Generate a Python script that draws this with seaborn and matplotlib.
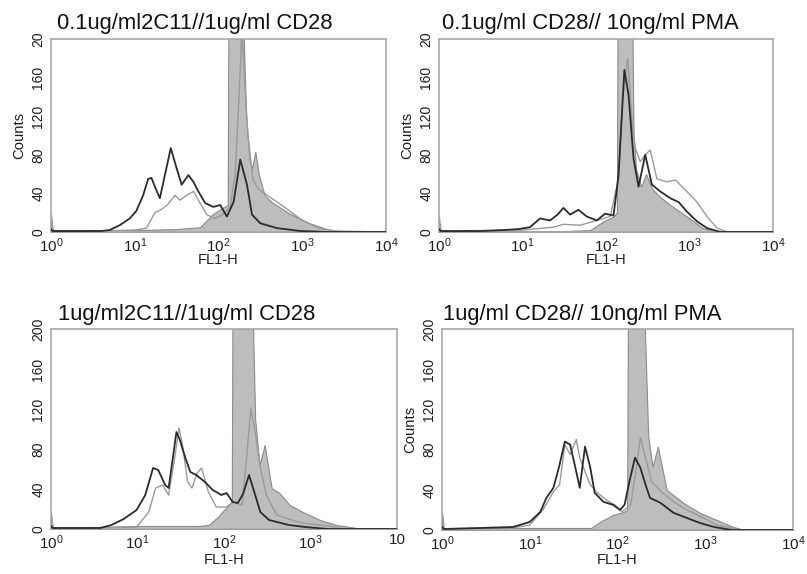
import numpy as np
import pandas as pd
import matplotlib
matplotlib.use("Agg")
import matplotlib.pyplot as plt
import matplotlib.transforms as mtransforms
from matplotlib.ticker import NullLocator
import seaborn as sns

# ---------------- data (x values are log10 of FL1-H) ----------------
titles = ["0.1ug/ml2C11//1ug/ml CD28", "0.1ug/ml CD28// 10ng/ml PMA",
          "1ug/ml2C11//1ug/ml CD28", "1ug/ml CD28// 10ng/ml PMA"]
yticks = [0, 40, 80, 120, 160, 200]
ytick_labels_top = ["0", "40", "80", "120", "160", "20"]
ytick_labels_bottom = ["0", "40", "80", "120", "160", "200"]
xticks = [1, 10, 100, 1000, 10000]
xtick_labels = ["$10^0$", "$10^1$", "$10^2$", "$10^3$", "$10^4$"]
xtick_labels_bl = ["$10^0$", "$10^1$", "$10^2$", "$10^3$", "10"]

# panel 1 (top left)
p1_fill_x = [0.0, 0.02, 0.5, 1.0, 1.5, 1.78, 1.94, 2.05, 2.09, 2.11, 2.12, 2.28, 2.33, 2.37, 2.40, 2.44, 2.48, 2.55, 2.65, 2.85, 3.09, 3.33, 3.5, 4.0]
p1_fill_y = [18, 2, 2, 2, 3, 5, 19, 25, 27, 28, 260, 260, 120, 75, 66, 83, 60, 38, 30, 19, 9, 2, 0, 0]
p1_dark_x = [0.0, 0.02, 0.3, 0.6, 0.7, 0.82, 0.94, 1.02, 1.10, 1.16, 1.20, 1.24, 1.30, 1.36, 1.43, 1.50, 1.56, 1.64, 1.70, 1.76, 1.84, 1.94, 2.02, 2.10, 2.18, 2.26, 2.34, 2.40, 2.50, 2.70, 2.98, 3.3, 4.0]
p1_dark_y = [3, 1, 1, 1, 2, 7, 14, 22, 38, 55, 56, 47, 35, 59, 87, 66, 49, 59, 52, 42, 30, 26, 28, 16, 31, 75, 49, 18, 9, 4, 1, 0, 0]
p1_light_x = [0.0, 0.02, 0.5, 1.0, 1.14, 1.24, 1.31, 1.39, 1.48, 1.54, 1.62, 1.70, 1.78, 1.86, 1.96, 2.05, 2.14, 2.20, 2.25, 2.28, 2.31, 2.35, 2.41, 2.47, 2.55, 2.65, 2.8, 3.0, 3.2, 3.4, 4.0]
p1_light_y = [20, 1, 1, 2, 4, 20, 23, 28, 38, 33, 38, 42, 30, 18, 14, 18, 26, 60, 150, 210, 160, 102, 55, 45, 40, 34, 25, 12, 4, 1, 0]

# panel 2 (top right)
p2_fill_x = [0.0, 0.02, 0.5, 1.0, 1.5, 1.81, 1.97, 2.09, 2.13, 2.14, 2.31, 2.33, 2.36, 2.42, 2.48, 2.55, 2.65, 2.77, 2.97, 3.16, 3.3, 3.45, 4.0]
p2_fill_y = [15, 1, 1, 1, 1, 2, 11, 16, 20, 260, 260, 100, 65, 47, 60, 45, 36, 28, 16, 4, 1, 0, 0]
p2_dark_x = [0.0, 0.02, 0.5, 0.77, 0.95, 1.09, 1.21, 1.33, 1.42, 1.49, 1.57, 1.67, 1.77, 1.89, 1.99, 2.09, 2.15, 2.22, 2.27, 2.33, 2.39, 2.47, 2.55, 2.65, 2.77, 2.87, 2.97, 3.09, 3.21, 3.37, 4.0]
p2_dark_y = [3, 1, 1, 2, 3, 5, 14, 12, 18, 25, 18, 23, 16, 12, 19, 17, 59, 168, 142, 76, 47, 80, 49, 42, 35, 31, 21, 11, 4, 0, 0]
p2_light_x = [0.0, 0.02, 1.0, 1.37, 1.49, 1.69, 1.89, 2.05, 2.15, 2.20, 2.26, 2.31, 2.35, 2.41, 2.47, 2.53, 2.61, 2.73, 2.83, 2.97, 3.09, 3.21, 3.33, 3.45, 4.0]
p2_light_y = [2, 1, 2, 5, 8, 7, 12, 16, 55, 140, 180, 115, 87, 73, 80, 85, 55, 52, 54, 42, 31, 16, 4, 0, 0]

# panel 3 (bottom left)
p3_fill_x = [0.0, 0.02, 0.5, 1.0, 1.5, 1.7, 1.82, 1.93, 2.03, 2.09, 2.10, 2.32, 2.36, 2.41, 2.47, 2.55, 2.64, 2.76, 2.91, 3.11, 3.3, 3.46, 3.6, 4.0]
p3_fill_y = [15, 2, 2, 3, 3, 3, 4, 12, 22, 27, 260, 260, 110, 64, 84, 41, 36, 24, 17, 9, 4, 2, 0, 0]
p3_dark_x = [0.0, 0.02, 0.4, 0.57, 0.70, 0.84, 0.99, 1.09, 1.18, 1.24, 1.32, 1.36, 1.45, 1.49, 1.55, 1.61, 1.68, 1.78, 1.87, 1.97, 2.03, 2.10, 2.16, 2.22, 2.29, 2.35, 2.42, 2.52, 2.75, 2.94, 3.2, 4.0]
p3_dark_y = [3, 1, 1, 1, 4, 10, 19, 34, 61, 59, 44, 41, 97, 89, 72, 57, 54, 47, 39, 34, 36, 27, 26, 35, 54, 37, 17, 9, 4, 2, 0, 0]
p3_light_x = [0.0, 0.02, 0.5, 0.99, 1.13, 1.21, 1.29, 1.36, 1.43, 1.48, 1.52, 1.58, 1.63, 1.69, 1.74, 1.82, 1.91, 2.03, 2.10, 2.21, 2.26, 2.31, 2.36, 2.42, 2.49, 2.61, 2.85, 3.0, 3.2, 3.4, 4.0]
p3_light_y = [18, 1, 1, 2, 17, 41, 44, 34, 71, 101, 84, 47, 41, 56, 61, 37, 22, 22, 27, 24, 70, 121, 97, 61, 34, 14, 7, 5, 3, 0, 0]

# panel 4 (bottom right)
p4_fill_x = [0.0, 0.02, 0.9, 1.7, 1.80, 1.95, 2.07, 2.11, 2.12, 2.29, 2.35, 2.40, 2.46, 2.56, 2.75, 2.94, 3.13, 3.32, 3.45, 4.0]
p4_fill_y = [18, 2, 2, 2, 8, 15, 18, 20, 260, 260, 93, 63, 83, 40, 27, 17, 10, 3, 0, 0]
p4_dark_x = [0.0, 0.02, 0.43, 0.81, 1.00, 1.12, 1.19, 1.27, 1.34, 1.40, 1.46, 1.52, 1.57, 1.63, 1.69, 1.74, 1.84, 1.95, 2.03, 2.08, 2.14, 2.20, 2.26, 2.32, 2.37, 2.49, 2.64, 2.79, 2.94, 3.10, 3.3, 4.0]
p4_dark_y = [3, 1, 2, 3, 8, 18, 32, 42, 65, 88, 85, 62, 42, 83, 62, 37, 28, 25, 20, 25, 50, 72, 62, 45, 32, 27, 17, 12, 7, 3, 0, 0]
p4_light_x = [0.0, 0.02, 0.8, 1.00, 1.15, 1.27, 1.34, 1.40, 1.46, 1.53, 1.57, 1.63, 1.69, 1.76, 1.87, 1.97, 2.05, 2.15, 2.22, 2.26, 2.31, 2.39, 2.50, 2.64, 2.79, 2.98, 3.13, 3.4, 4.0]
p4_light_y = [2, 1, 2, 5, 20, 38, 45, 85, 75, 90, 72, 58, 45, 38, 30, 25, 18, 25, 65, 92, 75, 48, 38, 28, 20, 12, 5, 0, 0]

# ---------------- styling ----------------
sns.set_style("white")
plt.rcParams['font.family'] = ['Liberation Sans', 'DejaVu Sans']
plt.rcParams['mathtext.fontset'] = 'custom'
plt.rcParams['mathtext.rm'] = 'Liberation Sans'
plt.rcParams['mathtext.it'] = 'Liberation Sans:italic'
plt.rcParams['mathtext.bf'] = 'Liberation Sans:bold'

FILL = '#bdbdbd'
FILL_EDGE = '#8a8a8a'
DARK = '#2b2b2b'
LIGHT = '#9a9a9a'
SPINE = '#a8a8a8'
TXT = '#1e1e1e'

W, H = 807, 574
fig = plt.figure(figsize=(W / 100, H / 100), dpi=100)


def rect(l, t, r, b):
    return [l / W, 1 - b / H, (r - l) / W, (b - t) / H]


panels = [
    dict(r=(51, 39, 386, 232), title=titles[0], tdx=6, tdy=10, fx=p1_fill_x, fy=p1_fill_y,
         dx=p1_dark_x, dy=p1_dark_y, lx=p1_light_x, ly=p1_light_y,
         yl=ytick_labels_top, xl=xtick_labels, ylabel=True, xlab_off=21),
    dict(r=(439, 39, 773, 232), title=titles[1], tdx=3, tdy=10, fx=p2_fill_x, fy=p2_fill_y,
         dx=p2_dark_x, dy=p2_dark_y, lx=p2_light_x, ly=p2_light_y,
         yl=ytick_labels_top, xl=xtick_labels, ylabel=True, xlab_off=21),
    dict(r=(51, 329, 397, 529), title=titles[2], tdx=7, tdy=9, fx=p3_fill_x, fy=p3_fill_y,
         dx=p3_dark_x, dy=p3_dark_y, lx=p3_light_x, ly=p3_light_y,
         yl=ytick_labels_bottom, xl=xtick_labels_bl, ylabel=False, xlab_off=24),
    dict(r=(442, 329, 793, 530), title=titles[3], tdx=1, tdy=9, fx=p4_fill_x, fy=p4_fill_y,
         dx=p4_dark_x, dy=p4_dark_y, lx=p4_light_x, ly=p4_light_y,
         yl=ytick_labels_bottom, xl=xtick_labels, ylabel=True, xlab_off=23),
]

for p in panels:
    l, t, r, b = p['r']
    axw, axh = r - l, b - t
    ax = fig.add_axes(rect(l, t, r, b))
    fx = 10 ** np.array(p['fx'])
    ax.fill_between(fx, p['fy'], 0, facecolor=FILL, edgecolor=FILL_EDGE, linewidth=0.8, zorder=1)
    light = pd.DataFrame({'x': 10 ** np.array(p['lx']), 'y': p['ly']})
    dark = pd.DataFrame({'x': 10 ** np.array(p['dx']), 'y': p['dy']})
    sns.lineplot(data=light, x='x', y='y', ax=ax, color=LIGHT, linewidth=1.0,
                 sort=False, estimator=None, zorder=2)
    sns.lineplot(data=dark, x='x', y='y', ax=ax, color=DARK, linewidth=1.3,
                 sort=False, estimator=None, zorder=3)
    ax.set_xscale('log')
    ax.set_xlim(1, 1e4)
    ax.set_ylim(0, 200)
    ax.xaxis.set_minor_locator(NullLocator())
    ax.set_xticks(xticks, p['xl'])
    ax.set_yticks(yticks, p['yl'], rotation=90, va='center')
    ax.tick_params(axis='x', labelsize=11, length=2, pad=1, color=SPINE, labelcolor=TXT)
    ax.tick_params(axis='y', labelsize=10, length=2, pad=2, color=SPINE, labelcolor=TXT)
    for s in ax.spines.values():
        s.set_color(SPINE)
        s.set_linewidth(1.2)
    ax.set_xlabel('FL1-H', fontsize=10.5, color=TXT, va='top')
    ax.xaxis.set_label_coords(0.5, -p['xlab_off'] / axh)
    if p['ylabel']:
        ax.set_ylabel('Counts', fontsize=10.7, color=TXT)
        ax.yaxis.set_label_coords(-25 / axw, 0.5)
    else:
        ax.set_ylabel('')
    tr = mtransforms.offset_copy(ax.transAxes, fig=fig, x=p['tdx'], y=p['tdy'], units='dots')
    ax.text(0, 1, p['title'], transform=tr, fontsize=15.8, color='#111111',
            ha='left', va='baseline')

fig.savefig('out.png', dpi=100)
